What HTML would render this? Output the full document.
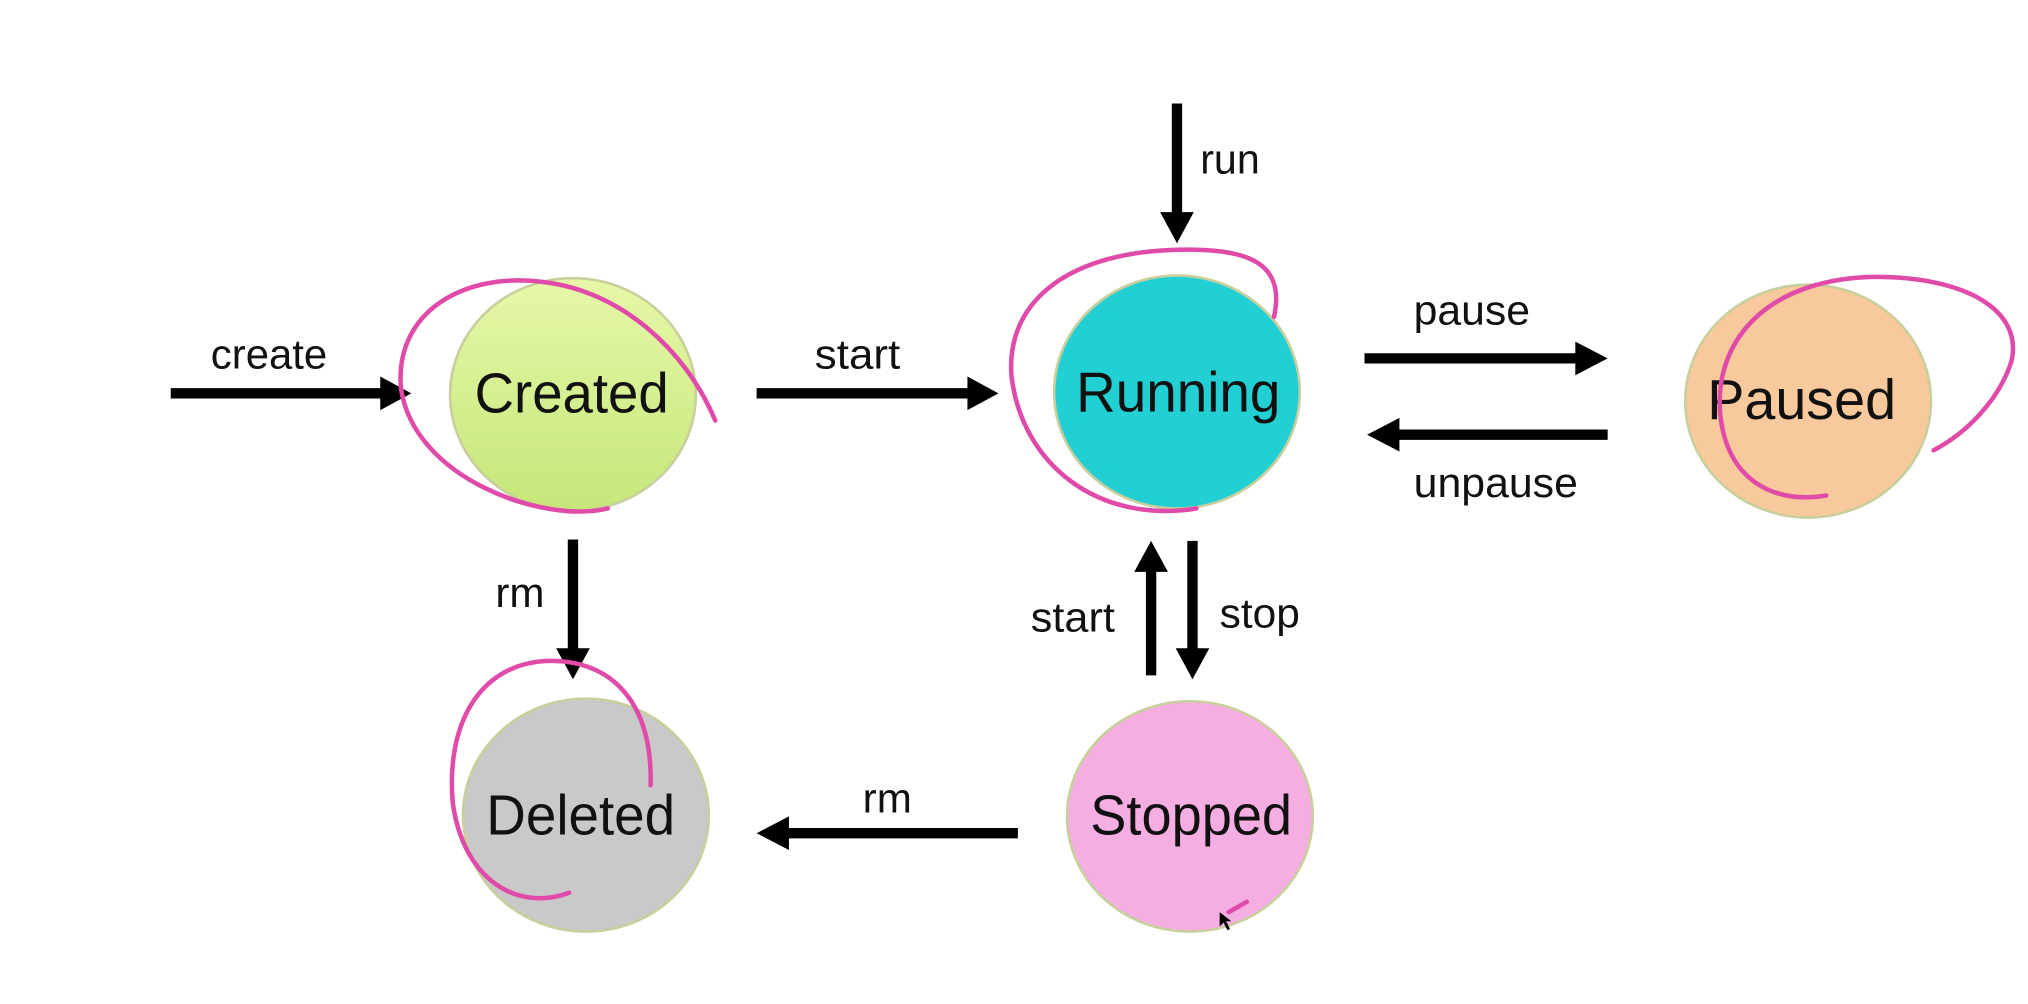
<!DOCTYPE html>
<html><head><meta charset="utf-8"><style>
html,body{margin:0;padding:0;background:#fff;}
svg{display:block}
text{font-family:"Liberation Sans",sans-serif;fill:#111}
</style></head><body>
<svg width="2028" height="1004" viewBox="0 0 1568 776" preserveAspectRatio="none" xmlns="http://www.w3.org/2000/svg">
<defs>
<linearGradient id="g1" x1="0" y1="0" x2="0" y2="1"><stop offset="0" stop-color="#e6f8a8"/><stop offset="1" stop-color="#c6e67a"/></linearGradient>
</defs>
<rect width="1568" height="776" fill="#fff"/>
<g stroke="#c9cf9c" stroke-width="2">
<ellipse cx="443" cy="305" rx="95" ry="90" fill="url(#g1)"/>
<ellipse cx="910" cy="303" rx="95" ry="90" fill="#22d0d4"/>
<ellipse cx="1398" cy="310" rx="95" ry="90" fill="#f8c99c"/>
<ellipse cx="453" cy="630" rx="95" ry="90" fill="#c9c9c9"/>
<ellipse cx="920" cy="631" rx="95" ry="89" fill="#f4aee2"/>
</g>
<g font-size="44" text-anchor="middle" lengthAdjust="spacingAndGlyphs">
<text x="442" y="319" textLength="150" lengthAdjust="spacingAndGlyphs">Created</text>
<text x="911" y="318" textLength="158" lengthAdjust="spacingAndGlyphs">Running</text>
<text x="1393" y="324" textLength="146" lengthAdjust="spacingAndGlyphs">Paused</text>
<text x="449" y="645" textLength="146" lengthAdjust="spacingAndGlyphs">Deleted</text>
<text x="921" y="645" textLength="156" lengthAdjust="spacingAndGlyphs">Stopped</text>
</g>
<g stroke="#000" stroke-width="8" fill="none">
<line x1="132" y1="304" x2="298" y2="304"/>
<line x1="585" y1="304" x2="752" y2="304"/>
<line x1="910" y1="80" x2="910" y2="166"/>
<line x1="1055" y1="277" x2="1222" y2="277"/>
<line x1="1243" y1="336" x2="1078" y2="336"/>
<line x1="443" y1="417" x2="443" y2="503"/>
<line x1="890" y1="522" x2="890" y2="440"/>
<line x1="922" y1="418" x2="922" y2="503"/>
<line x1="787" y1="644" x2="606" y2="644"/>
</g>
<g fill="#000">
<polygon points="294,291 318,304 294,317"/>
<polygon points="748,291 772,304 748,317"/>
<polygon points="897,164 910,188 923,164"/>
<polygon points="1218,264 1243,277 1218,290"/>
<polygon points="1082,323 1057,336 1082,349"/>
<polygon points="430,501 443,525 456,501"/>
<polygon points="877,442 890,418 903,442"/>
<polygon points="909,501 922,525 935,501"/>
<polygon points="610,631 585,644 610,657"/>
</g>
<g font-size="32">
<text x="163" y="285" textLength="90" lengthAdjust="spacingAndGlyphs">create</text>
<text x="630" y="285" textLength="66" lengthAdjust="spacingAndGlyphs">start</text>
<text x="928" y="134" textLength="46" lengthAdjust="spacingAndGlyphs">run</text>
<text x="1093" y="251" textLength="90" lengthAdjust="spacingAndGlyphs">pause</text>
<text x="1093" y="384" textLength="127" lengthAdjust="spacingAndGlyphs">unpause</text>
<text x="383" y="469" textLength="38" lengthAdjust="spacingAndGlyphs">rm</text>
<text x="797" y="488" textLength="65" lengthAdjust="spacingAndGlyphs">start</text>
<text x="943" y="485" textLength="62" lengthAdjust="spacingAndGlyphs">stop</text>
<text x="667" y="628" textLength="38" lengthAdjust="spacingAndGlyphs">rm</text>
</g>
<g stroke="#e04aa8" stroke-width="3.5" fill="none" stroke-linecap="round">
<path d="M470,393 C420,405 320,370 310,300 C305,240 360,210 420,218 C480,225 530,270 553,325"/>
<path d="M925,393 C850,405 790,360 782,290 C778,230 830,195 910,193 C960,192 995,200 985,245"/>
<path d="M1412,383 C1370,390 1335,370 1330,320 C1325,260 1370,215 1450,214 C1520,214 1565,240 1555,280 C1545,310 1520,335 1495,348"/>
<path d="M440,690 C400,705 358,680 350,620 C345,560 370,515 420,511 C470,508 505,540 503,607"/>
<path d="M950,705 L964,697"/>
</g>
<path d="M943,705 L943,716 L946,713 L949,719 L951,718 L948,712 L952,712 Z" fill="#000"/>
</svg>
</body></html>
